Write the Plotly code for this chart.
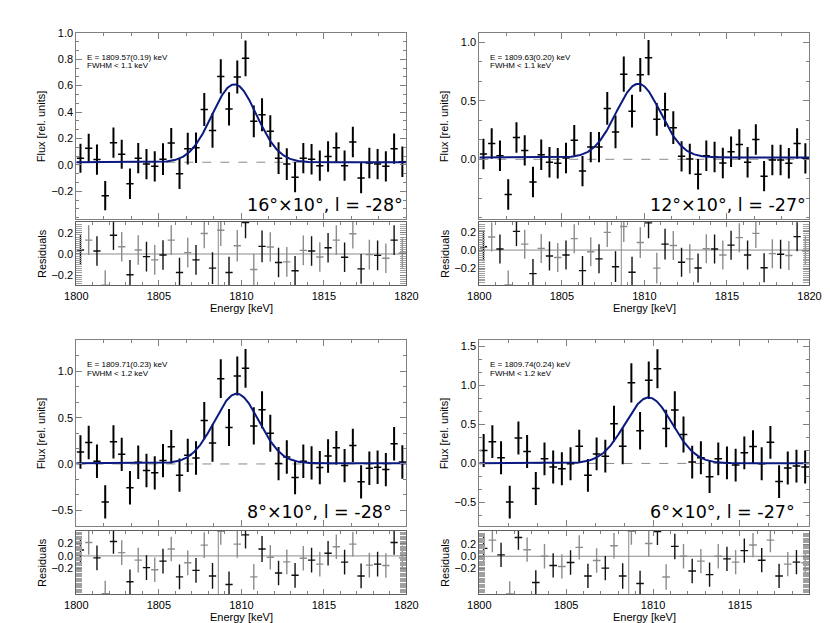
import numpy as np
import plotly.graph_objects as go

W, H = 830, 623

# ---------------- data ----------------
energy = [1800.25, 1800.75, 1801.25, 1801.75, 1802.25, 1802.75, 1803.25, 1803.75, 1804.25, 1804.75,
          1805.25, 1805.75, 1806.25, 1806.75, 1807.25, 1807.75, 1808.25, 1808.75, 1809.25, 1809.75,
          1810.25, 1810.75, 1811.25, 1811.75, 1812.25, 1812.75, 1813.25, 1813.75, 1814.25, 1814.75,
          1815.25, 1815.75, 1816.25, 1816.75, 1817.25, 1817.75, 1818.25, 1818.75, 1819.25, 1819.75]
energy_br = [1800.25, 1800.75, 1801.25, 1801.75, 1802.25, 1802.75, 1803.25, 1803.75, 1804.25, 1804.75,
             1805.25, 1805.75, 1806.25, 1806.75, 1807.25, 1807.75, 1808.25, 1808.75, 1809.25, 1809.75,
             1810.25, 1810.75, 1811.25, 1811.75, 1812.25, 1812.75, 1813.25, 1813.75, 1814.25, 1814.75,
             1815.25, 1815.75, 1816.25, 1816.75, 1817.25, 1817.75, 1818.25, 1818.75]

# 16x10, l=-28
tl_flux = [0.05, 0.126, 0.04, -0.233, 0.168, 0.081, -0.143, 0.051, 0.006, -0.011,
           0.043, 0.165, -0.068, 0.123, 0.13, 0.42, 0.26, 0.67, 0.424, 0.665,
           0.807, 0.33, 0.38, 0.255, 0.051, 0.006, -0.093, 0.051, 0.043, -0.006,
           0.063, 0.13, -0.006, 0.173, -0.1, 0.014, 0.006, -0.011, 0.123, 0.024]
tl_err = [0.11, 0.11, 0.115, 0.11, 0.115, 0.11, 0.115, 0.115, 0.115, 0.115,
          0.12, 0.115, 0.115, 0.12, 0.115, 0.125, 0.13, 0.13, 0.125, 0.125,
          0.135, 0.12, 0.125, 0.12, 0.12, 0.12, 0.115, 0.115, 0.115, 0.115,
          0.115, 0.115, 0.115, 0.115, 0.115, 0.115, 0.115, 0.115, 0.115, 0.115]
tl_res = [0.038, 0.131, 0.028, -0.295, 0.178, 0.069, -0.197, 0.038, -0.025, -0.056,
          -0.009, 0.131, -0.175, 0.013, -0.056, 0.194, -0.134, 0.225, -0.175, 0.078,
          0.298, -0.147, 0.072, 0.066, -0.081, -0.075, -0.159, 0.034, 0.028, -0.028,
          0.059, 0.131, -0.031, 0.191, -0.141, -0.006, -0.013, -0.04, 0.131, 0.009]
tl_res_err = [0.14, 0.14, 0.14, 0.14, 0.14, 0.14, 0.14, 0.14, 0.14, 0.14,
              0.14, 0.14, 0.14, 0.14, 0.14, 0.14, 0.15, 0.15, 0.15, 0.15,
              0.15, 0.15, 0.15, 0.14, 0.14, 0.14, 0.14, 0.14, 0.14, 0.14,
              0.14, 0.14, 0.14, 0.14, 0.14, 0.14, 0.14, 0.14, 0.14, 0.14]

# 12x10, l=-27
tr_flux = [0.045, 0.135, 0.031, -0.30, 0.186, 0.076, -0.194, 0.039, -0.025, -0.034,
           0.011, 0.163, -0.101, 0.104, 0.104, 0.434, 0.234, 0.727, 0.411, 0.721,
           0.868, 0.341, 0.423, 0.27, 0.025, 0.003, -0.127, 0.031, 0.02, -0.031,
           0.065, 0.127, -0.025, 0.169, -0.144, -0.006, -0.006, -0.034, 0.135, 0.008]
tr_err = [0.13, 0.13, 0.13, 0.13, 0.13, 0.13, 0.13, 0.13, 0.13, 0.13,
          0.13, 0.13, 0.13, 0.13, 0.13, 0.14, 0.14, 0.15, 0.14, 0.145,
          0.15, 0.14, 0.145, 0.14, 0.13, 0.13, 0.13, 0.13, 0.13, 0.13,
          0.13, 0.13, 0.13, 0.13, 0.13, 0.13, 0.13, 0.13, 0.13, 0.13]
tr_res = [0.036, 0.144, 0.011, -0.385, 0.206, 0.065, -0.26, 0.018, -0.065, -0.083,
          -0.054, 0.126, -0.227, -0.018, -0.097, 0.195, -0.184, 0.26, -0.245, 0.083,
          0.30, -0.2, 0.065, 0.05, -0.134, -0.097, -0.198, 0.014, 0.011, -0.054,
          0.054, 0.137, -0.054, 0.184, -0.195, -0.04, -0.047, -0.061, 0.148, -0.007]
tr_res_err = [0.16, 0.16, 0.16, 0.16, 0.16, 0.16, 0.16, 0.16, 0.16, 0.16,
              0.16, 0.16, 0.16, 0.16, 0.16, 0.16, 0.17, 0.17, 0.17, 0.17,
              0.17, 0.17, 0.17, 0.16, 0.16, 0.16, 0.16, 0.16, 0.16, 0.16,
              0.16, 0.16, 0.16, 0.16, 0.16, 0.16, 0.16, 0.16, 0.16, 0.16]

# 8x10, l=-28
bl_flux = [0.129, 0.232, 0.029, -0.41, 0.239, 0.104, -0.257, 0.018, -0.071, -0.096,
           0.036, 0.186, -0.121, 0.093, 0.064, 0.468, 0.225, 0.921, 0.393, 0.95,
           1.032, 0.411, 0.586, 0.332, 0.004, 0.075, -0.146, 0.029, 0.011, -0.039,
           0.086, 0.175, -0.018, 0.2, -0.193, -0.046, -0.036, -0.061, 0.218, 0.021]
bl_err = [0.18, 0.18, 0.18, 0.18, 0.18, 0.18, 0.18, 0.18, 0.18, 0.18,
          0.18, 0.18, 0.18, 0.18, 0.18, 0.2, 0.2, 0.21, 0.2, 0.21,
          0.21, 0.2, 0.2, 0.2, 0.18, 0.18, 0.18, 0.18, 0.18, 0.18,
          0.18, 0.18, 0.18, 0.18, 0.18, 0.18, 0.18, 0.18, 0.18, 0.18]
bl_res = [0.096, 0.219, -0.032, -0.615, 0.235, 0.053, -0.42, -0.069, -0.19, -0.224,
          -0.085, 0.112, -0.341, -0.112, -0.235, 0.176, -0.325, 0.40, -0.464, 0.192,
          0.341, -0.341, 0.112, -0.021, -0.277, -0.096, -0.315, -0.037, -0.069, -0.133,
          0.043, 0.149, -0.101, 0.192, -0.325, -0.149, -0.133, -0.155, 0.219, -0.032]
bl_res_err = [0.2, 0.2, 0.2, 0.21, 0.2, 0.2, 0.2, 0.2, 0.2, 0.2,
              0.2, 0.2, 0.2, 0.2, 0.2, 0.21, 0.21, 0.22, 0.21, 0.22,
              0.22, 0.21, 0.21, 0.2, 0.2, 0.2, 0.2, 0.2, 0.2, 0.2,
              0.2, 0.2, 0.2, 0.2, 0.2, 0.2, 0.2, 0.2, 0.2, 0.2]

# 6x10, l=-27
br_flux = [0.165, 0.278, 0.072, -0.494, 0.325, 0.152, -0.321, 0.059, -0.046, -0.068,
           -0.004, 0.219, -0.152, 0.122, 0.093, 0.506, 0.219, 1.03, 0.418, 1.063,
           1.211, 0.447, 0.684, 0.371, 0.017, 0.072, -0.169, 0.059, 0.008, -0.021,
           0.135, 0.215, -0.004, 0.27, -0.232, -0.059, -0.034, -0.046]
br_err = [0.21, 0.21, 0.21, 0.21, 0.21, 0.21, 0.21, 0.21, 0.21, 0.21,
          0.21, 0.21, 0.21, 0.21, 0.21, 0.23, 0.23, 0.25, 0.24, 0.24,
          0.25, 0.24, 0.24, 0.23, 0.21, 0.21, 0.21, 0.21, 0.21, 0.21,
          0.21, 0.21, 0.21, 0.21, 0.21, 0.21, 0.21, 0.21]
br_res = [0.13, 0.265, 0.022, -0.62, 0.308, 0.108, -0.432, 0.0, -0.151, -0.168,
          -0.103, 0.146, -0.324, -0.07, -0.195, 0.173, -0.324, 0.41, -0.449, 0.211,
          0.405, -0.341, 0.162, 0.0, -0.243, -0.081, -0.303, 0.0, -0.043, -0.097,
          0.092, 0.184, -0.065, 0.265, -0.324, -0.13, -0.097, -0.108]
br_res_err = [0.2, 0.2, 0.2, 0.21, 0.2, 0.2, 0.2, 0.2, 0.2, 0.2,
              0.2, 0.2, 0.2, 0.2, 0.2, 0.21, 0.21, 0.22, 0.21, 0.22,
              0.22, 0.21, 0.21, 0.2, 0.2, 0.2, 0.2, 0.2, 0.2, 0.2,
              0.2, 0.2, 0.2, 0.2, 0.2, 0.2, 0.2, 0.2]

# Gaussian line fit parameters
line_center = [1809.57, 1809.63, 1809.71, 1809.74]
line_amp = [0.59, 0.63, 0.75, 0.84]
line_base = [0.02, 0.015, 0.008, 0.003]
line_sigma = [1.35, 1.35, 1.35, 1.35]
ref_level = [0.02, 0.0, 0.0, 0.0]
al_marker = 1808.6

labels = ["16°×10°, l = -28°", "12°×10°, l = -27°", "8°×10°, l = -28°", "6°×10°, l = -27°"]
e_text = ["E = 1809.57(0.19) keV", "E = 1809.63(0.20) keV", "E = 1809.71(0.23) keV", "E = 1809.74(0.24) keV"]
fwhm_text = ["FWHM < 1.1 keV", "FWHM < 1.1 keV", "FWHM < 1.2 keV", "FWHM < 1.2 keV"]

x_ranges = [[1800, 1820], [1800, 1820], [1800, 1820], [1800, 1819]]
main_ranges = [[-0.41, 1.0], [-0.51, 1.08], [-0.67, 1.34], [-0.80, 1.58]]
main_ticks = [[-0.2, 0.0, 0.2, 0.4, 0.6, 0.8, 1.0], [0.0, 0.5, 1.0], [-0.5, 0.0, 0.5, 1.0],
              [-0.5, 0.0, 0.5, 1.0, 1.5]]
main_minor = [0.2 / 3, 0.5 / 3, 0.5 / 3, 0.5 / 3]
res_ranges = [[-0.297, 0.303], [-0.39, 0.31], [-0.624, 0.405], [-0.627, 0.416]]
res_ticks = [-0.2, 0.0, 0.2]

panels = [
    (energy, tl_flux, tl_err, tl_res, tl_res_err),
    (energy, tr_flux, tr_err, tr_res, tr_res_err),
    (energy, bl_flux, bl_err, bl_res, bl_res_err),
    (energy_br, br_flux, br_err, br_res, br_res_err),
]

# ---------------- geometry (pixels) ----------------
cols = [(58, 398), (473, 813)]
rows = [((19, 207), (210, 274)), ((329, 517), (522, 586))]
pos = [(0, 0), (0, 1), (1, 0), (1, 1)]

AX = "#808080"
FONT = "Liberation Sans, Arial, sans-serif"


def nm(n):
    return "" if n == 1 else str(n)


def dom_x(a, b):
    return [a / W, b / W]


def dom_y(top, bot):
    return [1 - bot / H, 1 - top / H]


fig = go.Figure()
layout = dict(width=W, height=H, margin=dict(l=0, r=0, t=0, b=0),
              paper_bgcolor="white", plot_bgcolor="white", showlegend=False,
              font=dict(family=FONT, size=11, color="black"))
shapes, annotations = [], []

for i, (en, fl, fe, rs, re_) in enumerate(panels):
    r_i, c_i = pos[i]
    x0, x1 = cols[c_i]
    (mt, mb), (rt, rb) = rows[r_i]
    m, r = 2 * i + 1, 2 * i + 2

    layout["xaxis" + nm(m)] = dict(
        domain=dom_x(x0, x1), anchor="y" + nm(m), range=x_ranges[i], showticklabels=False,
        ticks="inside", ticklen=6, tickcolor=AX, tickwidth=1, mirror="allticks", showline=True,
        linecolor=AX, linewidth=1, tick0=1800, dtick=5, showgrid=False, zeroline=False,
        minor=dict(dtick=5 / 3, tick0=1800, ticks="inside", ticklen=3, tickcolor=AX, showgrid=False),
        matches="x" + nm(r))
    layout["yaxis" + nm(m)] = dict(
        domain=dom_y(mt, mb), anchor="x" + nm(m), range=main_ranges[i], tickvals=main_ticks[i],
        tickformat=".1f", ticks="inside", ticklen=6, tickcolor=AX, mirror="allticks", showline=True,
        linecolor=AX, linewidth=1, showgrid=False, zeroline=False, tickfont=dict(size=11),
        minor=dict(dtick=main_minor[i], tick0=0, ticks="inside", ticklen=3, tickcolor=AX, showgrid=False))
    layout["xaxis" + nm(r)] = dict(
        domain=dom_x(x0, x1), anchor="y" + nm(r), range=x_ranges[i], tickvals=[1800, 1805, 1810, 1815, 1820],
        ticks="inside", ticklen=5, tickcolor=AX, mirror="allticks", showline=True, linecolor="#606060",
        linewidth=1, showgrid=False, zeroline=False, tickfont=dict(size=11),
        minor=dict(dtick=1, tick0=1800, ticks="inside", ticklen=3, tickcolor=AX, showgrid=False))
    layout["yaxis" + nm(r)] = dict(
        domain=dom_y(rt, rb), anchor="x" + nm(r), range=res_ranges[i], tickvals=res_ticks,
        tickformat=".1f", ticks="inside", ticklen=6, tickcolor=AX, mirror="allticks", showline=True,
        linecolor="#606060", linewidth=1, showgrid=False, zeroline=False, tickfont=dict(size=11),
        minor=dict(dtick=0.02, tick0=0, ticks="inside", ticklen=6, tickcolor="#a0a0a0", showgrid=False))

    # reference lines
    shapes.append(dict(type="line", xref="x" + nm(m) + " domain", yref="y" + nm(m), x0=0, x1=1,
                       y0=ref_level[i], y1=ref_level[i], layer="below",
                       line=dict(color="#8a8a8a", width=1, dash="dash")))
    shapes.append(dict(type="line", xref="x" + nm(r) + " domain", yref="y" + nm(r), x0=0, x1=1,
                       y0=0, y1=0, layer="below", line=dict(color="#8a8a8a", width=1)))
    shapes.append(dict(type="line", xref="x" + nm(r), yref="y" + nm(r) + " domain", x0=al_marker,
                       x1=al_marker, y0=0, y1=1, layer="below", line=dict(color="#8a8a8a", width=1)))

    # flux data
    fig.add_trace(go.Scatter(
        x=en, y=fl, mode="markers", marker=dict(size=1, color="black"),
        error_y=dict(type="data", array=fe, visible=True, thickness=2, width=0, color="black"),
        error_x=dict(type="data", array=[0.22] * len(en), visible=True, thickness=1.5, width=0, color="black"),
        xaxis="x" + nm(m), yaxis="y" + nm(m), hoverinfo="x+y"))

    # model line
    xs = np.linspace(x_ranges[i][0], x_ranges[i][1], 600)
    ys = line_base[i] + line_amp[i] * np.exp(-0.5 * ((xs - line_center[i]) / line_sigma[i]) ** 2)
    fig.add_trace(go.Scatter(x=xs, y=ys, mode="lines", line=dict(color="#0a1a80", width=2),
                             xaxis="x" + nm(m), yaxis="y" + nm(m), hoverinfo="skip"))

    # residuals (alternating rendering shade as in the original)
    for sl, col in ((slice(0, None, 2), "#111111"), (slice(1, None, 2), "#8c8c8c")):
        ex = list(en)[sl]
        fig.add_trace(go.Scatter(
            x=ex, y=list(rs)[sl], mode="markers", marker=dict(size=1, color=col),
            error_y=dict(type="data", array=list(re_)[sl], visible=True, thickness=1.4, width=0, color=col),
            error_x=dict(type="data", array=[0.22] * len(ex), visible=True, thickness=1.4, width=0, color=col),
            xaxis="x" + nm(r), yaxis="y" + nm(r), hoverinfo="x+y"))

    # texts
    yt = 0 if r_i == 0 else 310
    xo = 0 if c_i == 0 else 415
    annotations.append(dict(x=(xo + 67) / W, y=1 - (yt + 43.5) / H, xref="paper", yref="paper",
                            text=e_text[i], showarrow=False, xanchor="left", yanchor="middle",
                            font=dict(size=8, family=FONT, color="black")))
    annotations.append(dict(x=(xo + 67) / W, y=1 - (yt + 52.5) / H, xref="paper", yref="paper",
                            text=fwhm_text[i], showarrow=False, xanchor="left", yanchor="middle",
                            font=dict(size=8, family=FONT, color="black")))
    annotations.append(dict(x=(x0 + 0.512 * (x1 - x0)) / W, y=1 - (yt + 193) / H, xref="paper", yref="paper",
                            text=labels[i], showarrow=False, xanchor="left", yanchor="middle",
                            font=dict(size=17.5, family="DejaVu Sans", color="black")))
    annotations.append(dict(x=(xo + 22) / W, y=1 - ((mt + mb) / 2) / H, xref="paper", yref="paper",
                            text="Flux [rel. units]", showarrow=False, textangle=-90,
                            xanchor="center", yanchor="middle", font=dict(size=11, family=FONT)))
    annotations.append(dict(x=(xo + 22) / W, y=1 - ((rt + rb) / 2) / H, xref="paper", yref="paper",
                            text="Residuals", showarrow=False, textangle=-90,
                            xanchor="center", yanchor="middle", font=dict(size=11, family=FONT)))
    annotations.append(dict(x=((x0 + x1) / 2) / W, y=1 - (rb + 22.5) / H, xref="paper", yref="paper",
                            text="Energy [keV]", showarrow=False, xanchor="center", yanchor="middle",
                            font=dict(size=11, family=FONT)))

layout["shapes"] = shapes
layout["annotations"] = annotations
fig.update_layout(**layout)
fig.write_html("out.html")
